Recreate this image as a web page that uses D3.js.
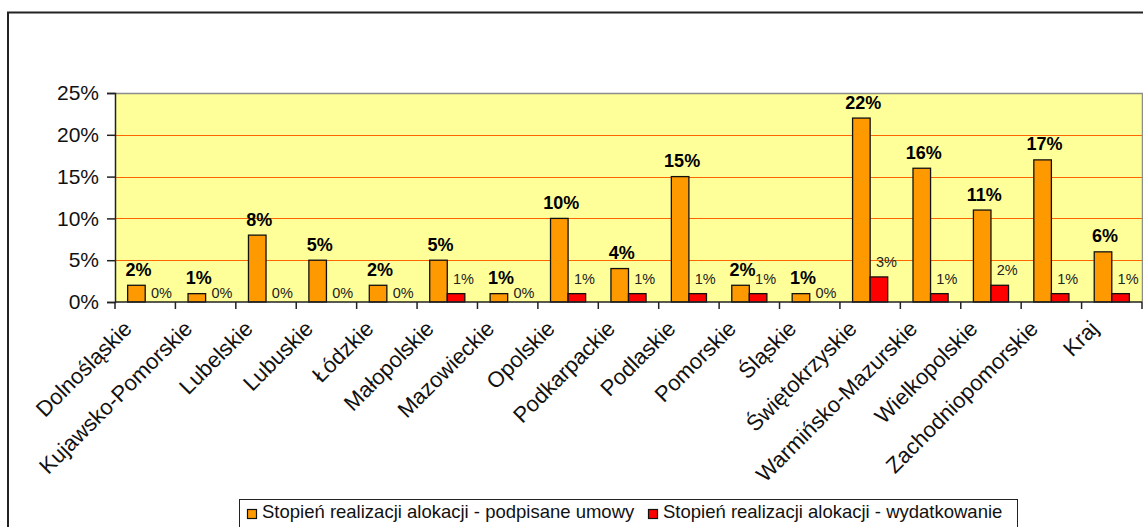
<!DOCTYPE html>
<html>
<head>
<meta charset="utf-8">
<script src="https://cdn.jsdelivr.net/npm/d3@7"></script>
<style>
  html, body { margin: 0; padding: 0; background: #fff; }
  svg { display: block; font-family: "Liberation Sans", Arial, sans-serif; }
</style>
</head>
<body>
<svg id="chart" width="1143" height="527"></svg>
<script>
const categories = ["Dolnośląskie","Kujawsko-Pomorskie","Lubelskie","Lubuskie","Łódzkie","Małopolskie",
  "Mazowieckie","Opolskie","Podkarpackie","Podlaskie","Pomorskie","Śląskie","Świętokrzyskie",
  "Warmińsko-Mazurskie","Wielkopolskie","Zachodniopomorskie","Kraj"];
const signedValues = [2,1,8,5,2,5,1,10,4,15,2,1,22,16,11,17,6];
const spentValues  = [0,0,0,0,0,1,0,1,1,1,1,0,3,1,2,1,1];
const yTicks = [0,5,10,15,20,25];
const seriesNames = ["Stopień realizacji alokacji - podpisane umowy","Stopień realizacji alokacji - wydatkowanie"];
const seriesColors = ["#ff9900","#ff0000"];

const svg = d3.select("#chart");

// outer frame (runs off the page on the right and bottom)
svg.append("rect").attr("x",8).attr("y",12.5).attr("width",1200).attr("height",600)
  .attr("fill","#fff").attr("stroke","#222").attr("stroke-width",2);

const plot = {left:115, right:1142, top:93, bottom:302};

const x = d3.scaleBand().domain(categories).range([plot.left, plot.right]);
const xs = d3.scaleBand().domain([0,1]).range([0, x.bandwidth()]).paddingOuter(0.72);
const y = d3.scaleLinear().domain([0,25]).range([plot.bottom, plot.top]);

// plot background
svg.append("rect").attr("x",plot.left).attr("y",plot.top)
  .attr("width",plot.right-plot.left).attr("height",plot.bottom-plot.top)
  .attr("fill","#ffff99");

// gridlines
svg.append("g").selectAll("line").data(yTicks.filter(d=>d>0 && d<25)).join("line")
  .attr("x1",plot.left).attr("x2",plot.right)
  .attr("y1",d=>Math.round(y(d))+0.5).attr("y2",d=>Math.round(y(d))+0.5)
  .attr("stroke","#ff6600").attr("stroke-width",1.2);

// plot border top/right
svg.append("path")
  .attr("d",`M${plot.left},${plot.top+0.5}H${plot.right+0.5}V${plot.bottom}`)
  .attr("fill","none").attr("stroke","#8c8c8c").attr("stroke-width",1.5);

// bars
const groups = svg.append("g").selectAll("g").data(categories).join("g")
  .attr("transform",d=>`translate(${x(d)},0)`);

groups.append("rect")
  .attr("x",xs(0)).attr("width",xs.bandwidth())
  .attr("y",(d,i)=>y(signedValues[i])).attr("height",(d,i)=>y(0)-y(signedValues[i]))
  .attr("fill",seriesColors[0]).attr("stroke","#111").attr("stroke-width",1.3);

groups.filter((d,i)=>spentValues[i]>0).append("rect")
  .attr("x",xs(1)).attr("width",xs.bandwidth())
  .attr("y",d=>y(spentValues[categories.indexOf(d)]))
  .attr("height",d=>y(0)-y(spentValues[categories.indexOf(d)]))
  .attr("fill",seriesColors[1]).attr("stroke","#111").attr("stroke-width",1.3);

// value labels
groups.append("text")
  .attr("x",xs(0)+xs.bandwidth()/2+2)
  .attr("y",(d,i)=>y(signedValues[i])-9.5)
  .attr("text-anchor","middle").attr("font-size",18).attr("font-weight","bold").attr("fill","#000")
  .text((d,i)=>signedValues[i]+"%");

groups.append("text")
  .attr("x",xs(1)+xs.bandwidth()/2+7.5)
  .attr("y",(d,i)=>spentValues[i]===0 ? y(0)-4 : y(spentValues[i])-10)
  .attr("text-anchor","middle").attr("font-size",14.5).attr("fill","#222")
  .text((d,i)=>spentValues[i]+"%");

// y axis
const yAxis = svg.append("g").attr("transform",`translate(${plot.left},0)`)
  .call(d3.axisLeft(y).tickValues(yTicks).tickSize(8).tickPadding(8).tickFormat(d=>d+"%"));
yAxis.select(".domain").attr("stroke","#222").attr("stroke-width",1.5);
yAxis.selectAll(".tick line").attr("stroke","#222").attr("stroke-width",1.5);
yAxis.selectAll(".tick text").attr("font-size",21).attr("font-family","Liberation Sans, Arial, sans-serif").attr("fill","#111");

// x axis with ticks at category boundaries
const xAxisG = svg.append("g").attr("transform",`translate(0,${plot.bottom})`);
xAxisG.append("line").attr("x1",plot.left).attr("x2",plot.right)
  .attr("stroke","#222").attr("stroke-width",1.5);
xAxisG.selectAll("line.tick").data(categories.concat([null])).join("line")
  .attr("class","tick")
  .attr("x1",(d,i)=>plot.left+i*x.step()).attr("x2",(d,i)=>plot.left+i*x.step())
  .attr("y1",0).attr("y2",7).attr("stroke","#222").attr("stroke-width",1.5);

xAxisG.selectAll("text").data(categories).join("text")
  .attr("transform",d=>`translate(${x(d)+x.bandwidth()/2-12},28) rotate(-45)`)
  .attr("text-anchor","end").attr("font-size",22).attr("fill","#111")
  .text(d=>d);

// legend
const legend = svg.append("g");
legend.append("rect").attr("x",239.5).attr("y",499.5).attr("width",778).attr("height",40)
  .attr("fill","#fff").attr("stroke","#222").attr("stroke-width",1);

const legendX = [247, 648];
const items = legend.selectAll("g").data(seriesNames).join("g")
  .attr("transform",(d,i)=>`translate(${legendX[i]},0)`);
items.append("rect").attr("x",0.5).attr("y",509.5).attr("width",9).attr("height",9)
  .attr("fill",(d,i)=>seriesColors[i]).attr("stroke","#111").attr("stroke-width",1.2);
items.append("text").attr("x",15).attr("y",518).attr("font-size",18.5).attr("fill","#111")
  .text(d=>d);
</script>
</body>
</html>
